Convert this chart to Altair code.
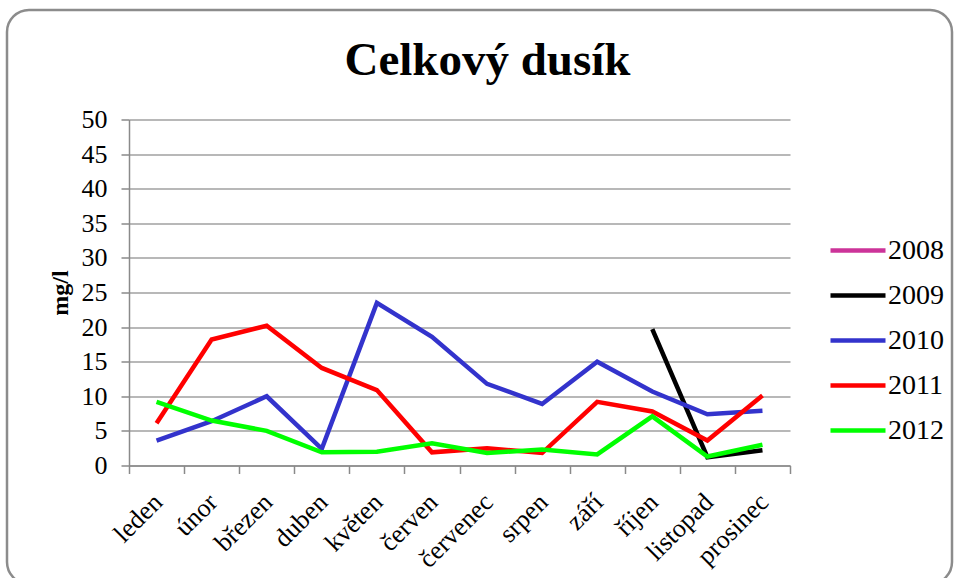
import altair as alt
import pandas as pd

months = ["leden", "únor", "březen", "duben", "květen", "červen",
          "červenec", "srpen", "září", "říjen", "listopad", "prosinec"]
years = ["2008", "2009", "2010", "2011", "2012"]
colors = ["#CC3399", "#000000", "#3333CC", "#FF0000", "#00FF00"]

v2008 = [None] * 12
v2009 = [None, None, None, None, None, None, None, None, None, 19.7, 1.2, 2.2]
v2010 = [3.6, 6.4, 10.0, 2.4, 23.5, 18.6, 11.8, 8.9, 15.0, 10.7, 7.4, 7.9]
v2011 = [6.1, 18.2, 20.2, 14.1, 10.9, 1.9, 2.5, 1.8, 9.2, 7.8, 3.6, 10.1]
v2012 = [9.2, 6.5, 5.0, 1.9, 2.0, 3.2, 1.8, 2.3, 1.6, 7.1, 1.3, 3.0]
y_ticks = [0, 5, 10, 15, 20, 25, 30, 35, 40, 45, 50]

rows = []
for yr, vals in zip(years, [v2008, v2009, v2010, v2011, v2012]):
    for i, (m, v) in enumerate(zip(months, vals)):
        if v is not None:
            rows.append({"rok": yr, "mesic": m, "idx": i, "hodnota": v})
df = pd.DataFrame(rows)

FONT = "Times New Roman, Liberation Serif, serif"
W, H = 661, 346
PL, PT = 129, 119.5

lines = alt.Chart(df).mark_line(strokeWidth=4.5, clip=False).encode(
    x=alt.X("mesic:N", sort=months, title=None,
            scale=alt.Scale(domain=months, paddingInner=0, paddingOuter=0),
            axis=alt.Axis(labelAngle=-45, labelFontSize=26, labelFont=FONT,
                          labelColor="black", tickBand="extent", tickSize=8,
                          tickColor="#8a8a8a", domainColor="#8a8a8a",
                          domainWidth=1.5, tickWidth=1.5, labelPadding=15,
                          labelOffset=-8, grid=False)),
    y=alt.Y("hodnota:Q", title="mg/l",
            scale=alt.Scale(domain=[0, 50], nice=False),
            axis=alt.Axis(values=y_ticks, labelFontSize=26, labelFont=FONT,
                          labelColor="black", tickSize=8, tickColor="#8a8a8a",
                          domainColor="#8a8a8a", domainWidth=1.5, tickWidth=1.5,
                          labelPadding=14, gridColor="#a0a0a0", gridWidth=1.5,
                          titleFont=FONT, titleFontSize=24, titleFontWeight="bold",
                          titleColor="black", titleX=-69, titleY=H / 2,
                          titleAngle=-90, titleAlign="center",
                          titleBaseline="middle")),
    color=alt.Color("rok:N",
                    scale=alt.Scale(domain=years, range=colors),
                    legend=alt.Legend(title=None, orient="none",
                                      legendX=699, legendY=101,
                                      symbolType="stroke", symbolSize=3025,
                                      symbolStrokeWidth=4.5, labelFont=FONT,
                                      labelFontSize=28, labelColor="black",
                                      labelOffset=0, rowPadding=1, padding=0)),
    order=alt.Order("idx:Q"),
)

frame = alt.Chart(pd.DataFrame({"k": [0]})).mark_rect(
    filled=False, stroke="#8c8c8c", strokeWidth=2.5, cornerRadius=22, clip=False
).encode(
    x=alt.value(7 - PL), x2=alt.value(952 - PL),
    y=alt.value(10 - PT), y2=alt.value(584 - PT),
)

chart = alt.layer(frame, lines).properties(
    width=W, height=H,
    padding={"left": PL, "top": PT, "right": 955 - PL - W, "bottom": 578 - PT - H},
    autosize="none",
    background="white",
    title=alt.TitleParams("Celkový dusík", font=FONT, fontSize=47,
                          fontWeight="bold", color="black", anchor="middle",
                          dx=28, offset=0, dy=113, baseline="alphabetic"),
).configure_view(stroke=None).configure_axis(
    labelFont=FONT, titleFont=FONT
).configure_legend(labelFont=FONT)

chart.save("out.html", embed_options={"renderer": "svg", "actions": False})
